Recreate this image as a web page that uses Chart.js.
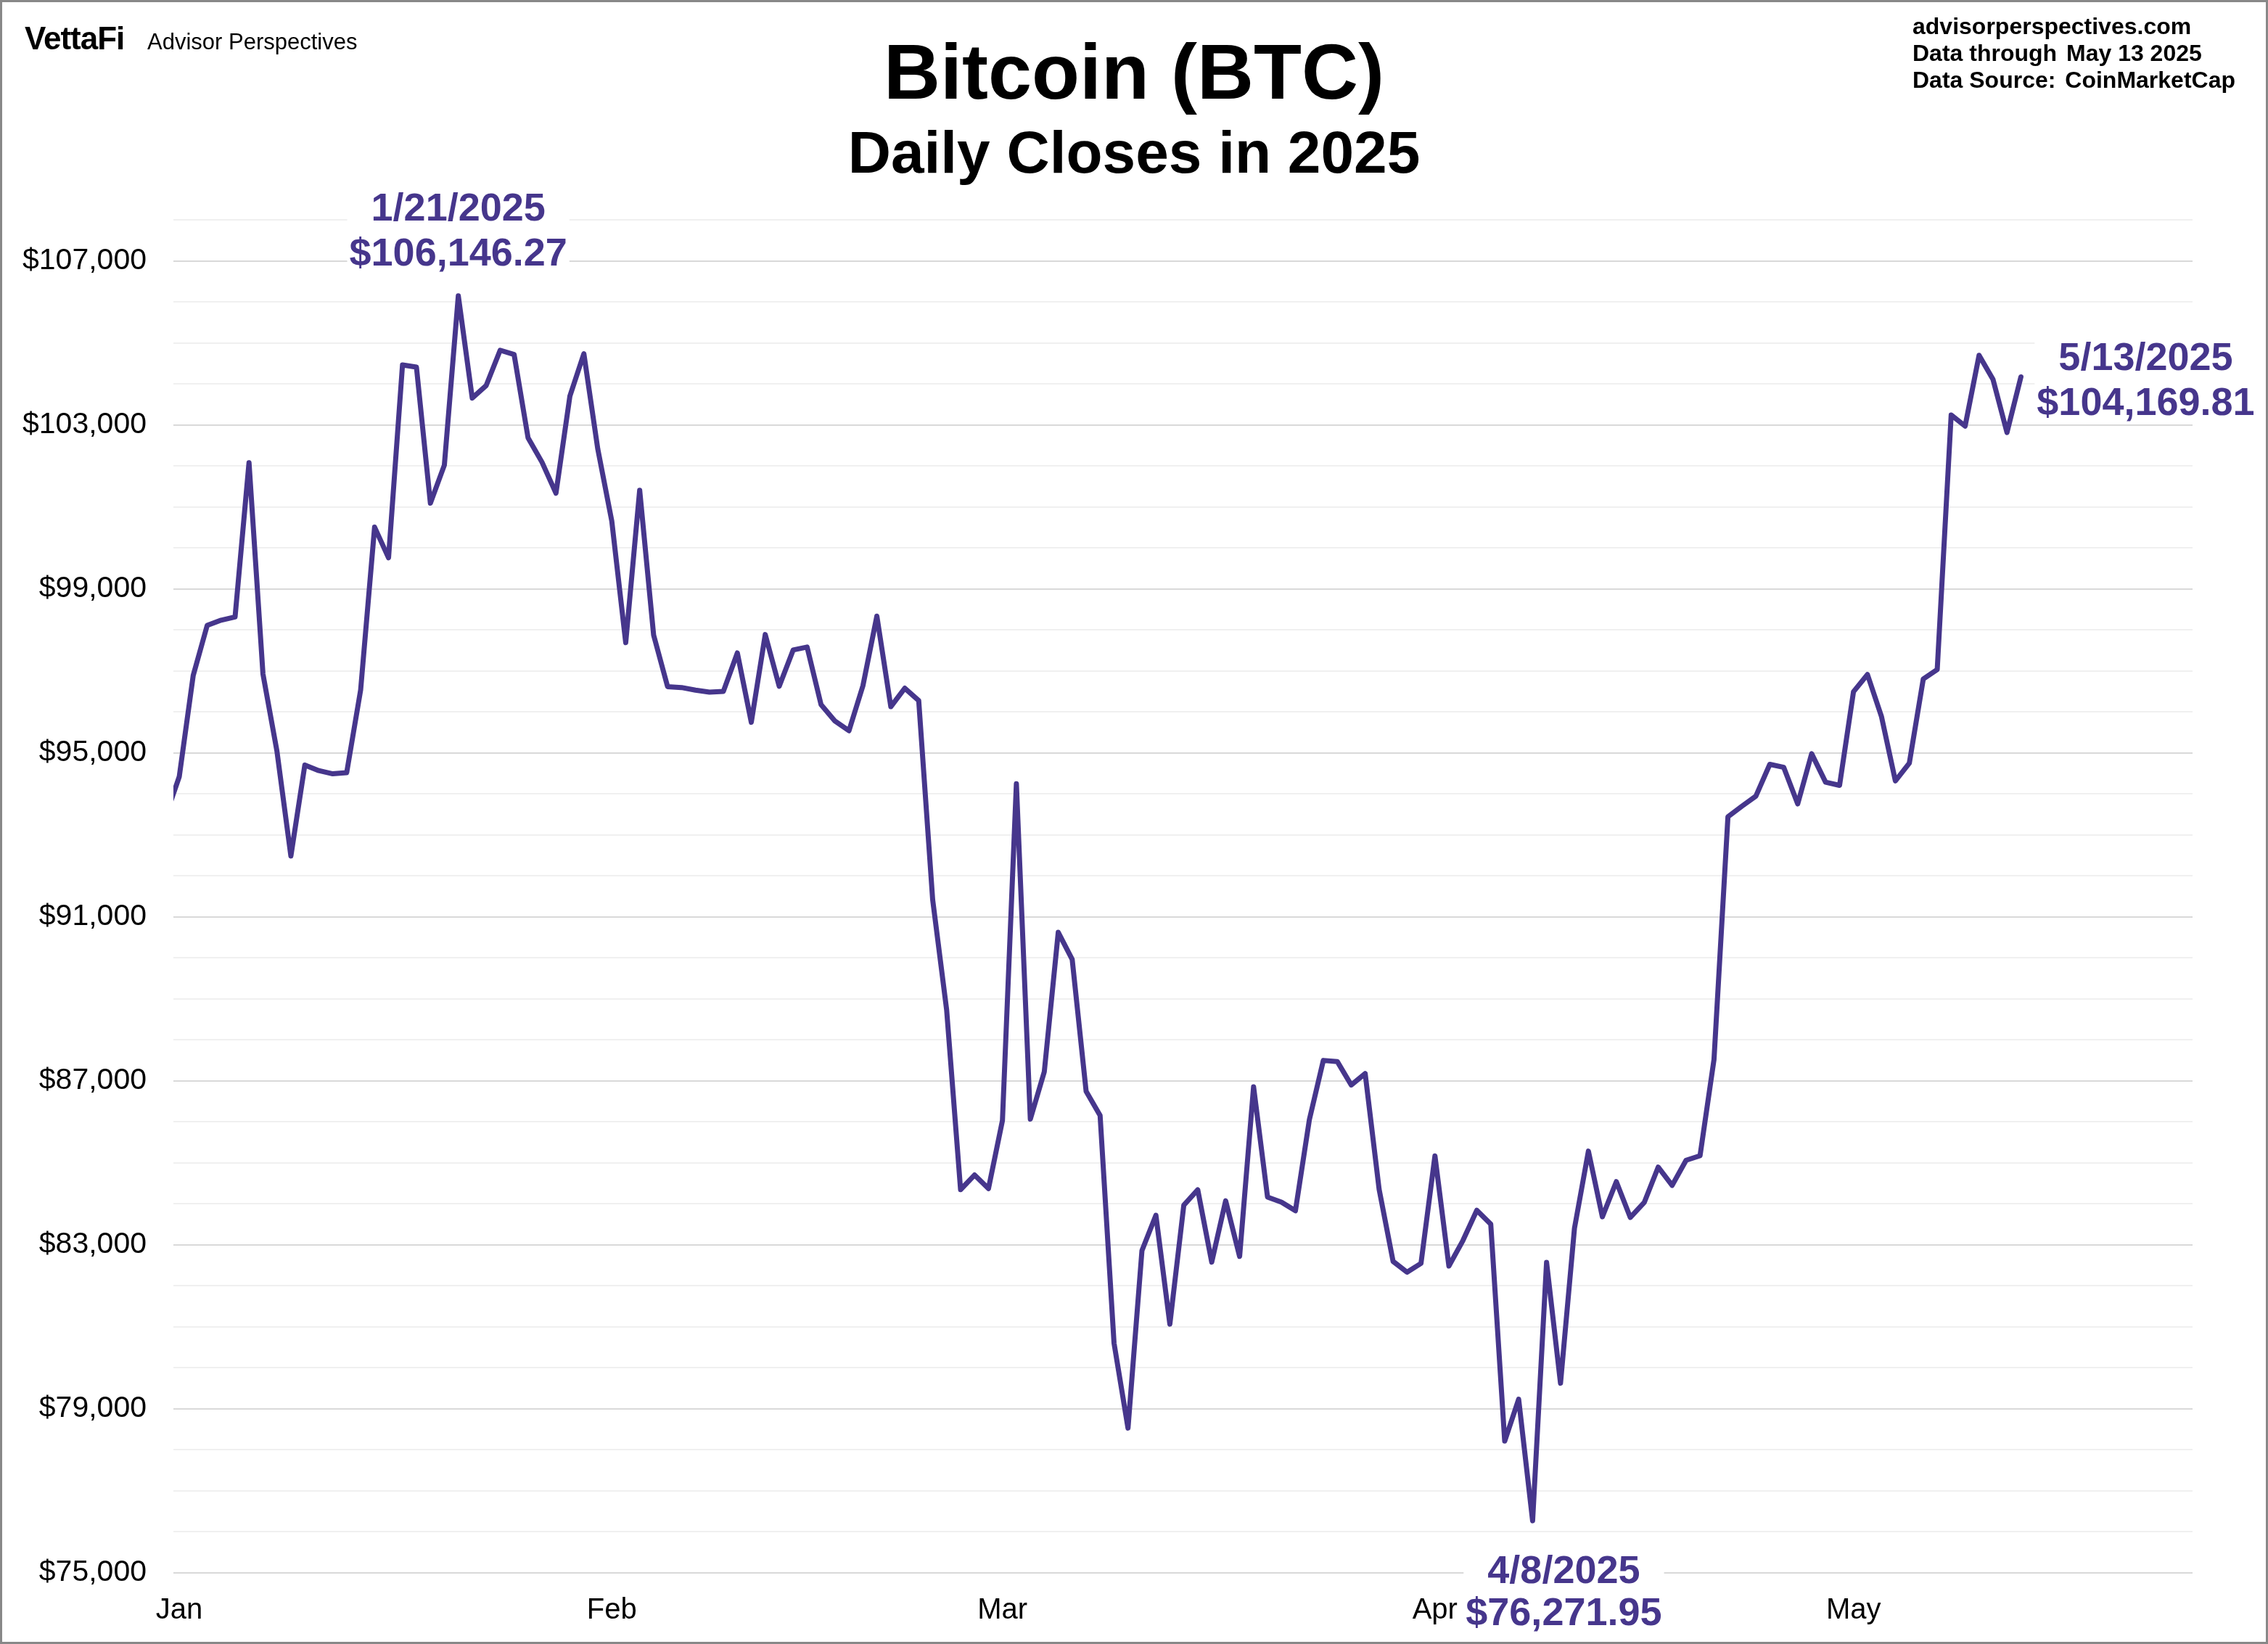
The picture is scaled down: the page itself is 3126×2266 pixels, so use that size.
<!DOCTYPE html>
<html>
<head>
<meta charset="utf-8">
<title>Bitcoin (BTC) - Daily Closes in 2025</title>
<script src="https://cdn.jsdelivr.net/npm/chart.js@4.4.1/dist/chart.umd.min.js"></script>
<style>
    body { margin: 0; background: #fff; font-family: "Liberation Sans", Arial, sans-serif; }
    #page { position: relative; width: 3126px; height: 2266px; overflow: hidden; background: #fff; }
    #chart { position: absolute; left: 0; top: 0; }
    #frame { position: absolute; left: 0; top: 0; width: 3126px; height: 2266px; border: 3px solid #888; box-sizing: border-box; pointer-events: none; }
    .txt { position: absolute; white-space: nowrap; color: #000; }
    .logo { left: 34px; top: 31px; font-size: 44px; line-height: 44px; font-weight: bold; letter-spacing: -1px; }
    .brand { left: 203px; top: 42px; font-size: 31px; line-height: 31px; }
    .title { left: 0; width: 3126px; text-align: center; font-weight: bold; }
    .t1 { top: 45px; font-size: 108px; line-height: 108px; }
    .t2 { top: 169px; font-size: 82px; line-height: 82px; }
    .info { left: 2636px; top: 18px; font-size: 32px; line-height: 37px; font-weight: bold; }
    .gap { display: inline-block; width: 4px; }
</style>
</head>
<body>
<div id="page">
    <canvas id="chart" width="3126" height="2266"></canvas>
    <div class="txt logo">VettaFi</div>
    <div class="txt brand">Advisor Perspectives</div>
    <div class="txt title t1">Bitcoin (BTC)</div>
    <div class="txt title t2">Daily Closes in 2025</div>
    <div class="txt info">advisorperspectives.com<br>Data through<span class="gap"></span> May 13 2025<br>Data Source:<span class="gap"></span> CoinMarketCap</div>
    <div id="frame"></div>
</div>
<script>
// daily closes, first value is Dec 31 2024 (day -1), Jan 1 2025 is day 0
const startDay = -1;
const closes = [
    93429.20,
    // Jan
    94419.76, 96886.88, 98107.43, 98236.23, 98314.96, 102078.09, 96922.70, 95043.52, 92484.04, 94701.46,
    94566.59, 94488.44, 94516.52, 96534.05, 100504.49, 99756.91, 104462.04, 104408.07, 101089.61, 102016.66,
    106146.27, 103653.07, 103960.17, 104819.48, 104714.65, 102682.50, 102087.69, 101332.48, 103703.21, 104735.30,
    102405.03,
    // Feb
    100655.91, 97688.98, 101405.42, 97871.82, 96615.44, 96593.57, 96529.09, 96482.45, 96500.09, 97437.55,
    95747.43, 97885.86, 96623.87, 97508.97, 97580.35, 96175.03, 95773.38, 95539.55, 96635.61, 98333.94,
    96125.55, 96577.76, 96273.92, 91418.17, 88736.17, 84347.02, 84704.23, 84373.01,
    // Mar
    86031.91, 94248.35, 86065.67, 87222.20, 90623.56, 89961.73, 86742.67, 86154.59, 80601.04, 78532.00,
    82862.21, 83722.36, 81066.70, 83969.10, 84343.11, 82579.69, 84075.69, 82718.50, 86854.23, 84167.20,
    84043.24, 83832.48, 86054.38, 87498.91, 87471.70, 86900.88, 87177.10, 84353.15, 82597.59, 82334.52,
    82548.91,
    // Apr
    85169.17, 82485.71, 83102.83, 83843.80, 83504.80, 78214.48, 79235.34, 76271.95, 82573.95, 79626.14,
    83404.84, 85287.11, 83684.98, 84542.39, 83668.99, 84033.87, 84895.75, 84450.81, 85063.41, 85174.30,
    87518.91, 93441.89, 93699.11, 93943.80, 94720.50, 94646.93, 93754.84, 94978.75, 94284.79, 94207.31,
    // May
    96492.34, 96910.07, 95891.80, 94315.97, 94748.05, 96802.48, 97032.32, 103241.46, 102970.85, 104696.33,
    104106.36, 102812.95, 104169.81
];
const monthLabels = ['Jan', 'Feb', 'Mar', 'Apr', 'May'];
const monthStarts = [0, 31, 59, 90, 120];
const yLabelValues = [75000, 79000, 83000, 87000, 91000, 95000, 99000, 103000, 107000];
const calloutDays = [20, 97, 132];
const calloutDates = ['1/21/2025', '4/8/2025', '5/13/2025'];

const lineColor = '#46368c';
const fontFamily = '"Liberation Sans", Arial, sans-serif';

function money(v, dec) {
    return '$' + v.toLocaleString('en-US', { minimumFractionDigits: dec, maximumFractionDigits: dec });
}

// where each callout sits relative to its point
const calloutPlace = ['above', 'below', 'right'];

const calloutPlugin = {
    id: 'callouts',
    afterDatasetsDraw(chart) {
        const ctx = chart.ctx;
        const xs = chart.scales.x, ys = chart.scales.y;
        ctx.save();
        ctx.font = 'bold 54px ' + fontFamily;
        ctx.textAlign = 'center';
        ctx.textBaseline = 'alphabetic';
        calloutDays.forEach((day, k) => {
            const v = closes[day - startDay];
            const px = xs.getPixelForValue(day);
            const py = ys.getPixelForValue(v);
            let cx = px, c1, c2;
            if (calloutPlace[k] === 'above') {
                c1 = py - 123; c2 = py - 61;
            } else if (calloutPlace[k] === 'below') {
                cx = px + 43; c1 = py + 67; c2 = py + 125;
            } else {
                cx = px + 172; c1 = py - 28; c2 = py + 34;
            }
            const l1 = calloutDates[k];
            const l2 = money(v, 2);
            const w = Math.max(ctx.measureText(l1).width, ctx.measureText(l2).width);
            ctx.fillStyle = '#fff';
            ctx.fillRect(cx - w / 2 - 3, c1 - 30, w + 6, c2 - c1 + 58);
            ctx.fillStyle = lineColor;
            ctx.fillText(l1, cx, c1 + 19);
            ctx.fillText(l2, cx, c2 + 19);
        });
        ctx.restore();
    }
};

const ctx = document.getElementById('chart').getContext('2d');
new Chart(ctx, {
    type: 'line',
    data: {
        datasets: [{
            label: 'Bitcoin (BTC)',
            data: closes.map((c, i) => ({ x: i + startDay, y: c })),
            borderColor: lineColor,
            borderWidth: 7,
            borderJoinStyle: 'round',
            borderCapStyle: 'round',
            pointRadius: 0,
            tension: 0,
            fill: false,
            clip: 0
        }]
    },
    options: {
        responsive: false,
        animation: false,
        devicePixelRatio: 1,
        layout: { padding: { left: 0, right: 104, top: 303, bottom: 0 } },
        plugins: {
            legend: { display: false },
            tooltip: { enabled: false }
        },
        scales: {
            x: {
                type: 'linear',
                min: -0.42,
                max: 144.3,
                grid: { display: false },
                border: { display: false },
                afterBuildTicks: scale => {
                    scale.ticks = monthStarts.map(v => ({ value: v }));
                },
                afterFit: scale => { scale.height = 98; },
                ticks: {
                    autoSkip: false,
                    maxRotation: 0,
                    padding: 20,
                    color: '#000',
                    font: { family: fontFamily, size: 40 },
                    callback: value => monthLabels[monthStarts.indexOf(value)]
                }
            },
            y: {
                min: 75000,
                max: 108000,
                border: { display: false },
                afterFit: scale => { scale.width = 239; },
                grid: {
                    drawTicks: false,
                    lineWidth: 2,
                    color: c => yLabelValues.includes(c.tick.value) ? '#d9d9d9' : '#f0f0f0'
                },
                ticks: {
                    stepSize: 1000,
                    maxTicksLimit: 60,
                    padding: 37,
                    color: '#000',
                    font: { family: fontFamily, size: 41 },
                    callback: value => yLabelValues.includes(value) ? money(value, 0) : ''
                }
            }
        }
    },
    plugins: [calloutPlugin]
});
</script>
</body>
</html>
